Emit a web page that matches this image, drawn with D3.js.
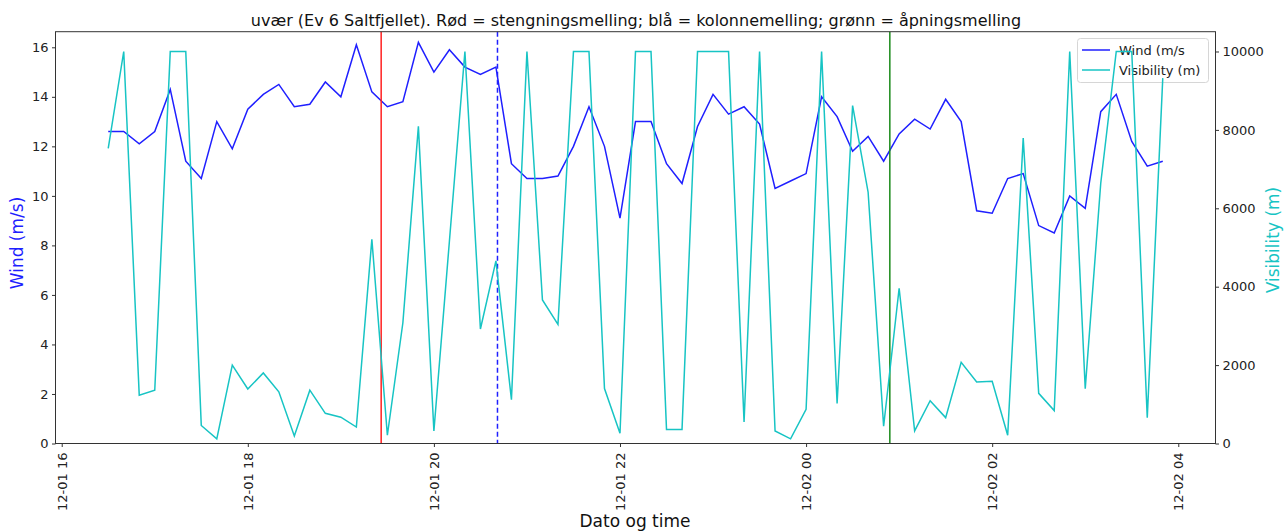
<!DOCTYPE html>
<html><head><meta charset="utf-8">
<script src="https://cdn.jsdelivr.net/npm/d3@7"></script>
<style>body{margin:0;background:#fff}svg{display:block;font-family:"DejaVu Sans",sans-serif}</style>
</head><body><svg id="c" width="1287" height="531"></svg>
<script>
const times = [
"12-01 16:30","12-01 16:40","12-01 16:50","12-01 17:00","12-01 17:10","12-01 17:20","12-01 17:30","12-01 17:40","12-01 17:50",
"12-01 18:00","12-01 18:10","12-01 18:20","12-01 18:30","12-01 18:40","12-01 18:50",
"12-01 19:00","12-01 19:10","12-01 19:20","12-01 19:30","12-01 19:40","12-01 19:50",
"12-01 20:00","12-01 20:10","12-01 20:20","12-01 20:30","12-01 20:40","12-01 20:50",
"12-01 21:00","12-01 21:10","12-01 21:20","12-01 21:30","12-01 21:40","12-01 21:50",
"12-01 22:00","12-01 22:10","12-01 22:20","12-01 22:30","12-01 22:40","12-01 22:50",
"12-01 23:00","12-01 23:10","12-01 23:20","12-01 23:30","12-01 23:40","12-01 23:50",
"12-02 00:00","12-02 00:10","12-02 00:20","12-02 00:30","12-02 00:40","12-02 00:50",
"12-02 01:00","12-02 01:10","12-02 01:20","12-02 01:30","12-02 01:40","12-02 01:50",
"12-02 02:00","12-02 02:10","12-02 02:20","12-02 02:30","12-02 02:40","12-02 02:50",
"12-02 03:00","12-02 03:10","12-02 03:20","12-02 03:30","12-02 03:40","12-02 03:50"];
const wind = [12.6,12.6,12.1,12.6,14.3,11.4,10.7,13.0,11.9,13.5,14.1,14.5,13.6,13.7,14.6,14.0,
16.1,14.2,13.6,13.8,16.2,15.0,15.9,15.2,14.9,15.2,11.3,10.7,10.7,10.8,12.0,13.6,12.0,9.1,13.0,
13.0,11.3,10.5,12.8,14.1,13.3,13.6,12.9,10.3,10.6,10.9,14.0,13.2,11.8,12.4,11.4,12.5,13.1,12.7,
13.9,13.0,9.4,9.3,10.7,10.9,8.8,8.5,10.0,9.5,13.4,14.1,12.2,11.2,11.4];
const visibility = [7530,10000,1230,1360,10000,10000,460,120,2000,1390,1800,1320,190,1360,770,670,
420,5210,210,3080,8090,320,5160,10000,2920,4660,1120,10000,3660,3040,10000,10000,1400,260,10000,
10000,360,360,10000,10000,10000,550,10000,320,120,870,10000,1020,8620,6410,440,3960,320,1090,
660,2070,1570,1590,210,7790,1280,840,10000,1400,6640,10000,10000,660,9320];
const events = [{t:"12-01 19:26",color:"#ff2020",dash:null},{t:"12-01 20:41",color:"#2020ff",dash:"5,3"},{t:"12-02 00:54",color:"#1a8a1a",dash:null}];
const xTickLabels = ["12-01 16","12-01 18","12-01 20","12-01 22","12-02 00","12-02 02","12-02 04"];
const windTicks = [0,2,4,6,8,10,12,14,16];
const visTicks = [0,2000,4000,6000,8000,10000];
const title = "uvær (Ev 6 Saltfjellet). Rød = stengningsmelling; blå = kolonnemelling; grønn = åpningsmelling";

const parse = d3.utcParse("%Y-%m-%d %H:%M");
const P = s => parse("2021-" + s);
const dates = times.map(P);

const L=55.5, R=1215.5, T=31.7, B=443.5;
const x = d3.scaleUtc().domain([P("12-01 15:56"), P("12-02 04:24")]).range([L,R]);
const yL = d3.scaleLinear().domain([0,16.63]).range([B,T]);
const yR = d3.scaleLinear().domain([0,10505]).range([B,T]);
const svg = d3.select("#c");

svg.append("path").datum(wind).attr("fill","none").attr("stroke","#1f1fff").attr("stroke-width",1.5)
  .attr("d", d3.line().x((d,i)=>x(dates[i])).y(d=>yL(d)));
events.forEach(e=>{
  svg.append("line").attr("x1",x(P(e.t))).attr("x2",x(P(e.t))).attr("y1",T).attr("y2",B)
    .attr("stroke",e.color).attr("stroke-width",1.5).attr("stroke-dasharray",e.dash);
});
const lg = svg.append("g");
lg.append("rect").attr("x",1077.5).attr("y",38.5).attr("width",131).attr("height",44).attr("rx",3)
  .attr("fill","#fff").attr("fill-opacity",0.8).attr("stroke","#d6d6d6");
[["Wind (m/s","#1f1fff"],["Visibility (m)","#17c4c4"]].forEach((d,i)=>{
  const yy = 50 + i*20;
  lg.append("line").attr("x1",1082).attr("x2",1110).attr("y1",yy).attr("y2",yy).attr("stroke",d[1]).attr("stroke-width",1.5);
  lg.append("text").attr("x",1119).attr("y",yy).attr("dy","0.35em").attr("font-size",13).attr("fill","#222").text(d[0]);
});
svg.append("path").datum(visibility).attr("fill","none").attr("stroke","#17c4c4").attr("stroke-width",1.5)
  .attr("d", d3.line().x((d,i)=>x(dates[i])).y(d=>yR(d)));

svg.append("rect").attr("x",L).attr("y",T).attr("width",R-L).attr("height",B-T).attr("fill","none").attr("stroke","#333").attr("stroke-width",1);

const xTickDates = xTickLabels.map(s=>P(s+":00"));
const xa = svg.append("g").attr("transform",`translate(0,${B})`)
  .call(d3.axisBottom(x).tickValues(xTickDates).tickSize(3.5).tickFormat(d3.utcFormat("%m-%d %H")));
xa.select(".domain").remove();
xa.selectAll("text").attr("font-size",13).attr("fill","#222").attr("font-family","DejaVu Sans")
  .attr("transform","rotate(-90)").attr("text-anchor","end").attr("x",-9).attr("y",0).attr("dy","0.35em");
xa.selectAll("line").attr("stroke","#333");

const la = svg.append("g").attr("transform",`translate(${L},0)`).call(d3.axisLeft(yL).tickValues(windTicks).tickSize(3.5).tickPadding(3.5));
la.select(".domain").remove();
la.selectAll("text").attr("font-size",13).attr("fill","#222").attr("font-family","DejaVu Sans");
la.selectAll("line").attr("stroke","#333");
const ra = svg.append("g").attr("transform",`translate(${R},0)`).call(d3.axisRight(yR).tickValues(visTicks).tickSize(3.5).tickPadding(3.5).tickFormat(d3.format("d")));
ra.select(".domain").remove();
ra.selectAll("text").attr("font-size",13).attr("fill","#222").attr("font-family","DejaVu Sans");
ra.selectAll("line").attr("stroke","#333");

svg.append("text").attr("x",636).attr("y",26).attr("text-anchor","middle").attr("font-size",16).attr("fill","#111").text(title);
svg.append("text").attr("transform","translate(17,243) rotate(-90)").attr("text-anchor","middle").attr("dy","0.35em")
  .attr("font-size",17).attr("fill","#1f1fff").text("Wind (m/s)");
svg.append("text").attr("transform","translate(1273,240) rotate(-90)").attr("text-anchor","middle").attr("dy","0.35em")
  .attr("font-size",17).attr("fill","#17c4c4").text("Visibility (m)");
svg.append("text").attr("x",635).attr("y",527).attr("text-anchor","middle").attr("font-size",17).attr("fill","#111").text("Dato og time");
</script></body></html>
